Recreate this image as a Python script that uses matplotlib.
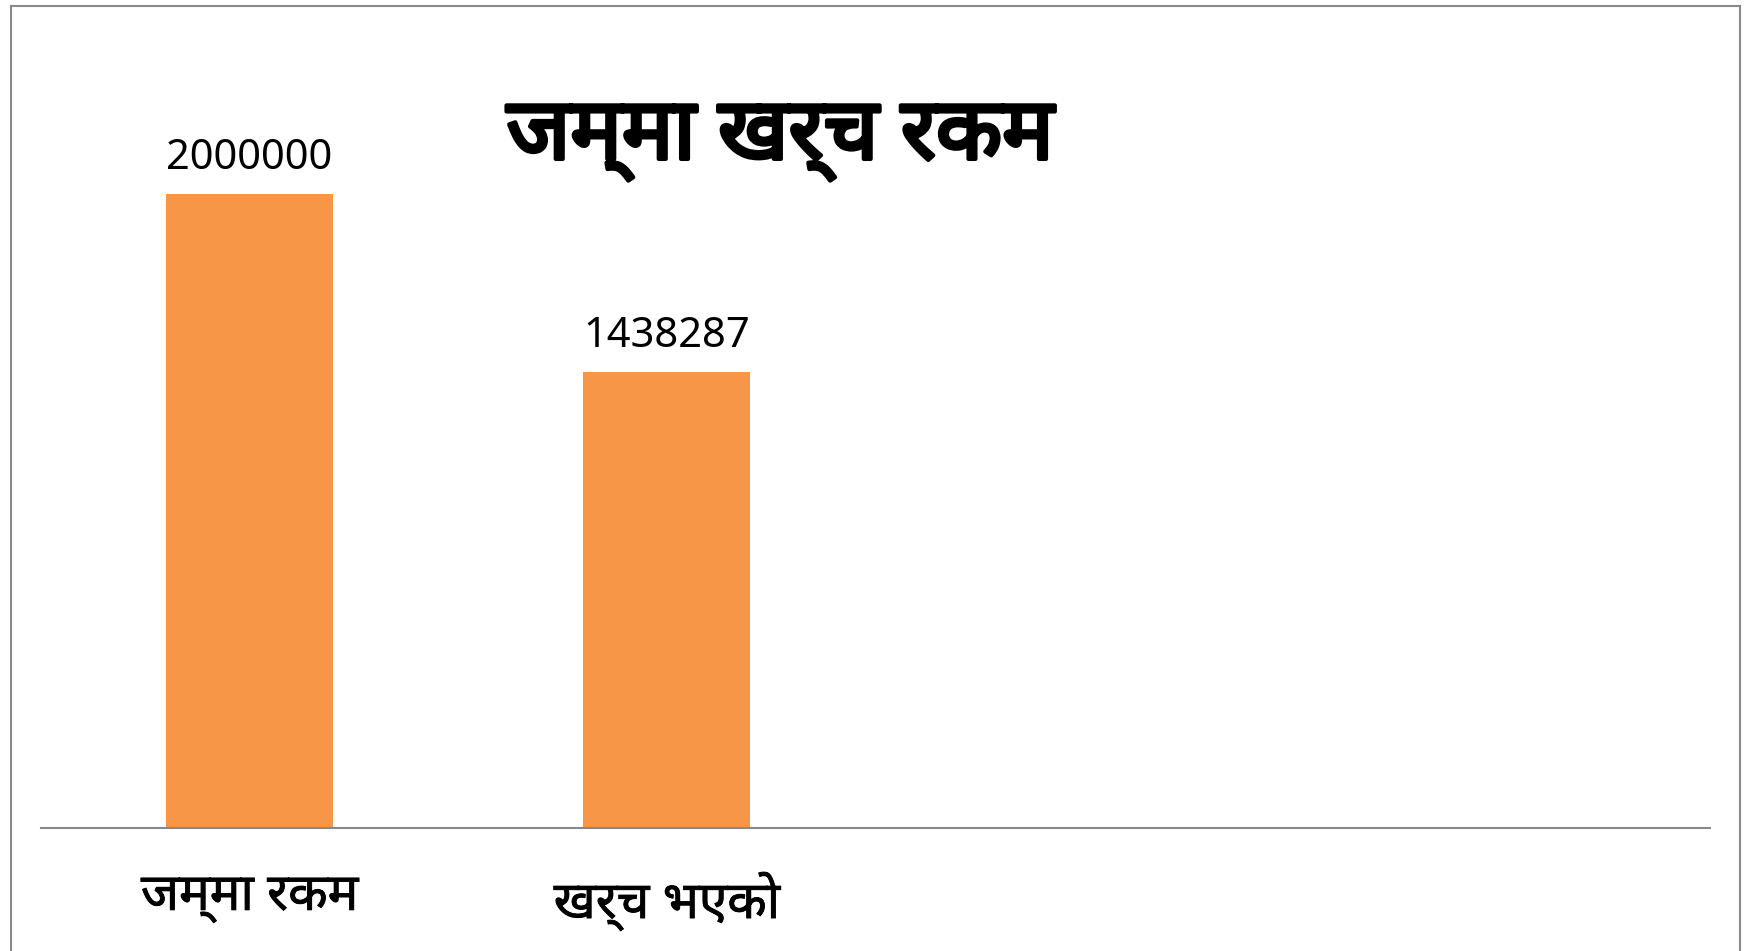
import matplotlib
matplotlib.use("Agg")
import matplotlib.pyplot as plt
import matplotlib.patheffects as pe
from matplotlib import font_manager
from matplotlib.lines import Line2D

categories = ["जम्मा रकम", "खर्च भएको"]
values = [2000000, 1438287]
title = "जम्मा खर्च रकम"

# pick a devanagari family that is actually installed
names = {f.name for f in font_manager.fontManager.ttflist}
deva = None
for n in ["Noto Sans Devanagari", "Hind", "Mukta", "Poppins", "Annapurna SIL", "FreeSans"]:
    if n in names:
        deva = n
        break
families = [deva, "Noto Sans", "DejaVu Sans"] if deva else ["Noto Sans", "DejaVu Sans"]
plt.rcParams["font.family"] = families

W, H = 1749, 951
fig = plt.figure(figsize=(W / 100, H / 100), dpi=100)
ax = fig.add_axes([41 / W, 1 - 827.6 / H, (1710 - 41) / W, (827.6 - 35.6) / H])

x = list(range(len(categories)))
ax.bar(x, values, width=0.4, color="#f79646", zorder=2)
ax.set_xlim(-0.5, 3.5)
ax.set_ylim(0, 2500000)

for xi, v in zip(x, values):
    ax.annotate(str(v), (xi, v), xytext=(0, 26), textcoords="offset points",
                ha="center", va="center", fontsize=30, family=["Noto Sans", "DejaVu Sans"])

ax.set_xticks(x)
ax.set_xticklabels(categories, fontsize=37)
ax.tick_params(axis="x", length=0, pad=32)
for lbl in ax.get_xticklabels():
    lbl.set_path_effects([pe.withStroke(linewidth=0.6, foreground="black")])
ax.set_yticks([])
for s in ["top", "right", "left"]:
    ax.spines[s].set_visible(False)
ax.spines["bottom"].set_color("#898989")
ax.spines["bottom"].set_linewidth(1.5)

t = fig.text(780 / W, 1 - 138 / H, title, ha="center", va="center", fontsize=62, fontweight="bold")
t.set_path_effects([pe.withStroke(linewidth=3, foreground="black")])

# outer chart border (bottom edge runs off the image)
bc = "#898989"
fig.add_artist(Line2D([11 / W, 11 / W], [0, 1 - 6 / H], color=bc, lw=1.5))
fig.add_artist(Line2D([11 / W, 1740 / W], [1 - 6 / H, 1 - 6 / H], color=bc, lw=1.5))
fig.add_artist(Line2D([1740 / W, 1740 / W], [0, 1 - 6 / H], color=bc, lw=1.5))

fig.savefig("out.png", dpi=100, facecolor="white")
